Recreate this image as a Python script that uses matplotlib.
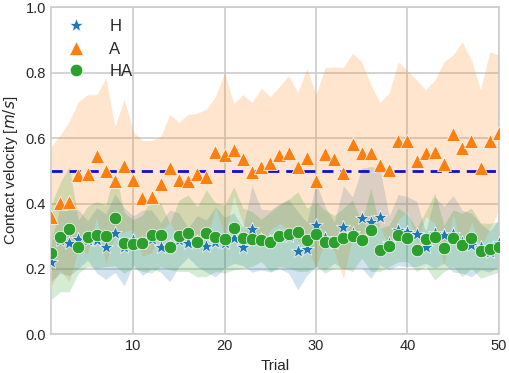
import numpy as np
import matplotlib
matplotlib.use("Agg")
import matplotlib.pyplot as plt

# valores (media e desvio por tentativa)
trials = np.arange(1, 51)

h_mean = [0.222, 0.287, 0.279, 0.291, 0.287, 0.287, 0.268, 0.309, 0.268, 0.287,
          0.280, 0.290, 0.266, 0.270, 0.289, 0.280, 0.285, 0.270, 0.283, 0.280,
          0.294, 0.268, 0.322, 0.290, 0.285, 0.300, 0.300, 0.256, 0.261, 0.335,
          0.294, 0.280, 0.327, 0.311, 0.355, 0.342, 0.360, 0.279, 0.319, 0.314,
          0.307, 0.266, 0.311, 0.304, 0.307, 0.283, 0.273, 0.268, 0.253, 0.279]
h_std = [0.060, 0.100, 0.100, 0.090, 0.060, 0.100, 0.100, 0.120, 0.120, 0.075,
         0.100, 0.090, 0.076, 0.110, 0.082, 0.045, 0.078, 0.080, 0.107, 0.078,
         0.077, 0.058, 0.132, 0.093, 0.095, 0.100, 0.113, 0.120, 0.081, 0.128,
         0.097, 0.063, 0.127, 0.109, 0.153, 0.171, 0.148, 0.082, 0.109, 0.107,
         0.100, 0.049, 0.109, 0.087, 0.117, 0.096, 0.097, 0.071, 0.063, 0.072]

a_mean = [0.360, 0.403, 0.406, 0.488, 0.490, 0.546, 0.500, 0.469, 0.516, 0.471,
          0.416, 0.421, 0.460, 0.508, 0.472, 0.469, 0.490, 0.481, 0.559, 0.549,
          0.564, 0.536, 0.495, 0.511, 0.523, 0.549, 0.554, 0.513, 0.539, 0.469,
          0.551, 0.536, 0.493, 0.582, 0.556, 0.554, 0.518, 0.503, 0.592, 0.592,
          0.531, 0.554, 0.559, 0.521, 0.613, 0.571, 0.592, 0.508, 0.592, 0.617]
a_std = [0.214, 0.207, 0.245, 0.224, 0.243, 0.187, 0.284, 0.166, 0.203, 0.149,
         0.177, 0.172, 0.145, 0.165, 0.176, 0.204, 0.186, 0.208, 0.168, 0.252,
         0.141, 0.197, 0.214, 0.242, 0.204, 0.209, 0.237, 0.227, 0.275, 0.264,
         0.265, 0.282, 0.323, 0.278, 0.278, 0.209, 0.191, 0.235, 0.241, 0.215,
         0.247, 0.194, 0.219, 0.313, 0.242, 0.323, 0.248, 0.240, 0.272, 0.238]

ha_mean = [0.250, 0.297, 0.322, 0.268, 0.299, 0.304, 0.301, 0.355, 0.280, 0.276,
           0.278, 0.304, 0.304, 0.268, 0.301, 0.309, 0.283, 0.309, 0.297, 0.291,
           0.324, 0.294, 0.291, 0.287, 0.283, 0.301, 0.307, 0.314, 0.289, 0.306,
           0.283, 0.283, 0.294, 0.301, 0.287, 0.319, 0.258, 0.270, 0.304, 0.294,
           0.258, 0.291, 0.299, 0.263, 0.294, 0.273, 0.294, 0.256, 0.260, 0.268]
ha_std = [0.145, 0.167, 0.192, 0.081, 0.092, 0.102, 0.094, 0.146, 0.093, 0.074,
          0.086, 0.117, 0.097, 0.071, 0.109, 0.117, 0.107, 0.133, 0.105, 0.104,
          0.127, 0.092, 0.084, 0.065, 0.091, 0.094, 0.105, 0.122, 0.097, 0.099,
          0.096, 0.081, 0.092, 0.109, 0.054, 0.127, 0.066, 0.063, 0.082, 0.072,
          0.066, 0.084, 0.133, 0.071, 0.087, 0.097, 0.092, 0.085, 0.079, 0.078]

target = 0.5

plt.style.use("seaborn-v0_8-whitegrid")
plt.rcParams["font.family"] = ["Liberation Sans", "DejaVu Sans"]

fig = plt.figure(figsize=(5.1, 3.73), dpi=100)
ax = fig.add_axes([0.1, 0.104, 0.878, 0.876])

series = [
    ("H", h_mean, h_std, "#1f77b4", "*", 10),
    ("A", a_mean, a_std, "#ff7f0e", "^", 10),
    ("HA", ha_mean, ha_std, "#2ca02c", "o", 9),
]

for label, m, s, cor, mk, ms in series:
    m = np.array(m)
    s = np.array(s)
    ax.fill_between(trials, m - s, m + s, color=cor, alpha=0.2, linewidth=0)

ax.axhline(target, color="#1010c8", linestyle="--", linewidth=2, dashes=(4, 2.5), zorder=2)

for label, m, s, cor, mk, ms in series:
    ax.plot(trials, m, linestyle="none", marker=mk, markersize=ms, color=cor,
            markeredgecolor="white", markeredgewidth=0.5, label=label, zorder=3)

ax.set_xlim(1, 50)
ax.set_ylim(0, 1.0)
ax.set_xticks([10, 20, 30, 40, 50])
ax.set_yticks([0.0, 0.2, 0.4, 0.6, 0.8, 1.0])
ax.set_xlabel("Trial", fontsize=11)
ax.set_ylabel("Contact velocity [$m/s$]", fontsize=11)
ax.tick_params(labelsize=10.5)

ax.grid(True, color="#cccccc", linewidth=1.2)
for sp in ax.spines.values():
    sp.set_visible(True)
    sp.set_color("#cccccc")
    sp.set_linewidth(1.2)

ax.legend(loc="upper left", frameon=False, fontsize=12, handletextpad=1.2,
          borderaxespad=0.3, labelspacing=0.45, handlelength=1.6)

fig.savefig("out.png", dpi=100)
